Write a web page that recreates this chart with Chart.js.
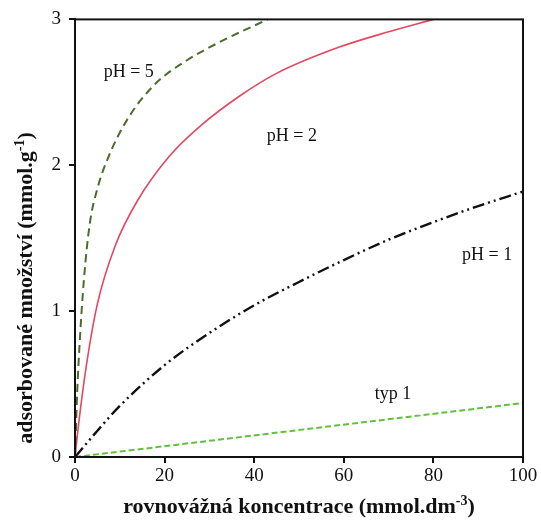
<!DOCTYPE html>
<html lang="cs">
<head>
<meta charset="UTF-8">
<title>Adsorpční izotermy</title>
<style>
  html, body { margin: 0; padding: 0; background: #fff; }
  #wrap { width: 541px; height: 527px; position: relative; }
</style>
<script src="https://cdn.jsdelivr.net/npm/chart.js"></script>
</head>
<body>
<div id="wrap"><canvas id="chart"></canvas></div>
<script>
// values
const ph5X = [0, 0.5, 1, 2, 3.3, 5, 7.5, 12, 18, 25, 32, 43];
const ph5Y = [0, 0.45, 0.76, 1.22, 1.6, 1.84, 2.06, 2.33, 2.56, 2.72, 2.84, 3.0];

const ph2X = [0, 0.9, 2.6, 5, 9, 14, 21, 28, 37, 45, 59, 70, 80];
const ph2Y = [0, 0.25, 0.64, 1.05, 1.45, 1.76, 2.06, 2.27, 2.48, 2.63, 2.81, 2.915, 3.0];

const ph1X = [0, 5, 10, 20, 30, 40, 50, 60, 70, 80, 90, 100];
const ph1Y = [0, 0.18, 0.35, 0.63, 0.85, 1.04, 1.2, 1.35, 1.49, 1.61, 1.72, 1.82];

const typ1X = [0, 100];
const typ1Y = [0, 0.37];

const xTicks = [0, 20, 40, 60, 80, 100];
const yTicks = [0, 1, 2, 3];

const curveLabels = [
  { text: 'pH = 5', x: 12, y: 2.64 },
  { text: 'pH = 2', x: 48.4, y: 2.2 },
  { text: 'pH = 1', x: 92, y: 1.38 },
  { text: 'typ 1', x: 71, y: 0.43 }
];

const serif = '"Liberation Serif", "Times New Roman", serif';

function pts(xs, ys) {
  return xs.map((x, i) => ({ x: x, y: ys[i] }));
}

// frame, curve labels and axis titles with superscripts
const decor = {
  id: 'decor',
  afterDraw(chart) {
    const ctx = chart.ctx;
    const a = chart.chartArea;
    const sx = chart.scales.x, sy = chart.scales.y;
    ctx.save();
    ctx.strokeStyle = '#111';
    ctx.lineWidth = 2;
    ctx.strokeRect(a.left, a.top, a.right - a.left, a.bottom - a.top);

    ctx.fillStyle = '#111';
    ctx.font = '18px ' + serif;
    ctx.textAlign = 'center';
    ctx.textBaseline = 'middle';
    curveLabels.forEach(l => {
      ctx.fillText(l.text, sx.getPixelForValue(l.x), sy.getPixelForValue(l.y));
    });

    function titled(main, sup, tail, cx, cy) {
      const big = 'bold 22px ' + serif, small = 'bold 14px ' + serif;
      ctx.font = big;
      const w1 = ctx.measureText(main).width, w3 = ctx.measureText(tail).width;
      ctx.font = small;
      const w2 = ctx.measureText(sup).width;
      let x = cx - (w1 + w2 + w3) / 2;
      ctx.textAlign = 'left';
      ctx.textBaseline = 'alphabetic';
      ctx.font = big;
      ctx.fillText(main, x, cy);
      x += w1;
      ctx.font = small;
      ctx.fillText(sup, x, cy - 8);
      x += w2;
      ctx.font = big;
      ctx.fillText(tail, x, cy);
    }
    titled('rovnovážná koncentrace (mmol.dm', '-3', ')', (a.left + a.right) / 2, 513);
    ctx.translate(32, 288);
    ctx.rotate(-Math.PI / 2);
    titled('adsorbované množství (mmol.g', '-1', ')', 0, 0);
    ctx.restore();
  }
};

new Chart(document.getElementById('chart'), {
  type: 'line',
  data: {
    datasets: [
      {
        label: 'pH = 5', data: pts(ph5X, ph5Y),
        borderColor: '#4d6b2c', borderWidth: 2, borderDash: [8, 5]
      },
      {
        label: 'pH = 2', data: pts(ph2X, ph2Y),
        borderColor: '#e4475f', borderWidth: 1.6
      },
      {
        label: 'pH = 1', data: pts(ph1X, ph1Y),
        borderColor: '#111', borderWidth: 2.4, borderDash: [12, 4, 2, 4, 2, 4]
      },
      {
        label: 'typ 1', data: pts(typ1X, typ1Y),
        borderColor: '#62c040', borderWidth: 2, borderDash: [6, 3]
      }
    ]
  },
  options: {
    responsive: true,
    maintainAspectRatio: false,
    animation: false,
    layout: { padding: { top: 19, right: 18, left: 0, bottom: 0 } },
    elements: {
      point: { radius: 0 },
      line: { cubicInterpolationMode: 'monotone', fill: false }
    },
    plugins: {
      legend: { display: false },
      tooltip: { enabled: false }
    },
    scales: {
      x: {
        type: 'linear', min: 0, max: 100,
        afterBuildTicks: s => { s.ticks = xTicks.map(v => ({ value: v })); },
        afterFit: s => { s.height = 70; },
        grid: { drawOnChartArea: false, tickLength: 6, color: '#111', lineWidth: 2 },
        border: { color: '#111', width: 2 },
        ticks: { color: '#111', font: { family: serif, size: 19 }, padding: 2, maxRotation: 0 }
      },
      y: {
        type: 'linear', min: 0, max: 3,
        afterBuildTicks: s => { s.ticks = yTicks.map(v => ({ value: v })); },
        afterFit: s => { s.width = 75; },
        grid: { drawOnChartArea: false, tickLength: 6, color: '#111', lineWidth: 2 },
        border: { color: '#111', width: 2 },
        ticks: { color: '#111', font: { family: serif, size: 19 }, padding: 8 }
      }
    }
  },
  plugins: [decor]
});
</script>
</body>
</html>
